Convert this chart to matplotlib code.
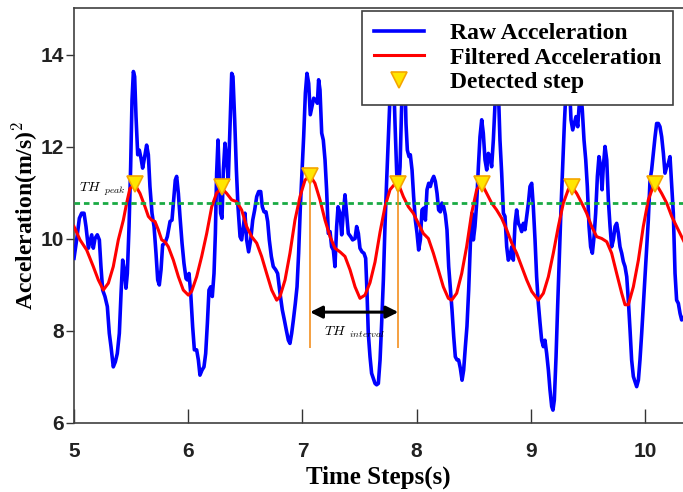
import matplotlib
matplotlib.use("Agg")
import matplotlib.pyplot as plt

# raw accelerometer magnitude
blue_t = [5.000, 5.023, 5.047, 5.067, 5.088, 5.105, 5.126, 5.140, 5.155, 5.169, 5.184, 5.204, 5.222,
          5.236, 5.251, 5.271, 5.292, 5.309, 5.324, 5.344, 5.362, 5.379, 5.397, 5.412, 5.426, 5.441,
          5.455, 5.467, 5.482, 5.496, 5.508, 5.520, 5.531, 5.543, 5.558, 5.572, 5.587, 5.601, 5.619,
          5.636, 5.651, 5.665, 5.683, 5.701, 5.718, 5.733, 5.747, 5.762, 5.776, 5.797, 5.817, 5.841,
          5.858, 5.873, 5.887, 5.899, 5.914, 5.928, 5.946, 5.963, 5.981, 5.992, 6.007, 6.022, 6.039,
          6.054, 6.074, 6.089, 6.103, 6.121, 6.138, 6.153, 6.168, 6.182, 6.197, 6.211, 6.226, 6.238,
          6.249, 6.261, 6.273, 6.284, 6.296, 6.308, 6.322, 6.337, 6.351, 6.366, 6.381, 6.392, 6.407,
          6.422, 6.436, 6.454, 6.468, 6.483, 6.497, 6.512, 6.529, 6.547, 6.565, 6.582, 6.600, 6.617,
          6.635, 6.649, 6.664, 6.681, 6.696, 6.710, 6.728, 6.745, 6.766, 6.783, 6.804, 6.824, 6.842,
          6.859, 6.877, 6.891, 6.906, 6.921, 6.938, 6.953, 6.967, 6.982, 6.996, 7.011, 7.026, 7.040,
          7.055, 7.069, 7.084, 7.099, 7.116, 7.131, 7.142, 7.154, 7.169, 7.183, 7.198, 7.212, 7.227,
          7.242, 7.256, 7.271, 7.285, 7.300, 7.312, 7.329, 7.344, 7.358, 7.373, 7.387, 7.402, 7.423,
          7.440, 7.461, 7.475, 7.490, 7.504, 7.522, 7.539, 7.554, 7.566, 7.577, 7.592, 7.606, 7.621,
          7.636, 7.650, 7.665,
          7.680, 7.694, 7.709, 7.723, 7.738, 7.753, 7.767, 7.782, 7.796, 7.811, 7.826, 7.840, 7.855,
          7.869, 7.884, 7.896, 7.907, 7.919, 7.934, 7.945, 7.960, 7.974, 7.989, 8.004, 8.018, 8.033,
          8.047, 8.062, 8.077, 8.091, 8.106, 8.120, 8.135, 8.150, 8.164, 8.179, 8.193, 8.208, 8.222,
          8.237, 8.252, 8.266, 8.281, 8.295, 8.310, 8.325, 8.339, 8.354, 8.368, 8.383, 8.398, 8.412,
          8.427, 8.441, 8.456, 8.471, 8.485, 8.497, 8.511, 8.526, 8.541, 8.555, 8.570, 8.584, 8.599,
          8.614, 8.628, 8.643, 8.657, 8.672, 8.687, 8.701, 8.716, 8.730, 8.745, 8.760, 8.774, 8.789,
          8.803, 8.818, 8.833, 8.847, 8.862, 8.876, 8.891, 8.906, 8.920, 8.935, 8.949, 8.964, 8.979,
          8.993, 9.008, 9.022, 9.037, 9.051, 9.066, 9.081, 9.095, 9.110, 9.124, 9.139, 9.154, 9.168,
          9.183, 9.194, 9.206, 9.221, 9.235, 9.250, 9.265, 9.279, 9.294, 9.308, 9.323, 9.337, 9.352,
          9.367, 9.381, 9.396, 9.411, 9.425, 9.437, 9.451, 9.466, 9.481, 9.495, 9.510, 9.524, 9.539,
          9.554, 9.568, 9.583, 9.597, 9.612, 9.624, 9.635, 9.650, 9.665, 9.679, 9.694, 9.708, 9.723,
          9.738, 9.752, 9.767, 9.781, 9.796, 9.810, 9.825, 9.840, 9.854, 9.869, 9.883, 9.898, 9.913,
          9.927, 9.942, 9.956, 9.971, 9.985, 10.000, 10.015, 10.029, 10.044, 10.058, 10.073, 10.088,
          10.102, 10.117, 10.131, 10.146, 10.161, 10.175, 10.190, 10.204, 10.219, 10.234, 10.248,
          10.263, 10.277, 10.292, 10.307, 10.321, 10.340]
blue_v = [9.58, 9.98, 10.45, 10.56, 10.56, 10.27, 9.80, 9.94, 10.09, 9.80, 10.01, 10.09, 9.98,
          9.40, 8.89, 8.75, 8.53, 7.95, 7.66, 7.22, 7.33, 7.51, 7.95, 8.82, 9.54, 9.33,
          8.93, 9.25, 10.27, 11.57, 13.02, 13.64, 13.53, 12.66, 11.83, 11.93, 11.75, 11.54, 11.79,
          12.04, 11.83, 11.14, 10.56, 10.27, 9.69, 9.11, 9.00, 9.33, 9.87, 9.91, 10.05, 10.38,
          10.41, 10.85, 11.28, 11.36, 10.99, 10.49, 9.91, 9.47, 9.14, 9.11, 9.25, 8.82, 8.09,
          7.59, 7.59, 7.37, 7.04, 7.15, 7.22, 7.51, 8.17, 8.89, 8.96, 8.75, 9.25, 10.12,
          11.43, 12.15, 11.28, 10.56, 10.45, 11.50, 12.08, 11.72, 11.28, 12.44, 13.60, 13.53, 12.59,
          11.50, 10.70, 10.05, 9.98, 10.27, 10.56, 9.98, 9.72, 9.98, 10.41, 10.63, 10.92, 11.03,
          11.03, 10.70, 10.59, 10.59, 10.38, 9.98, 9.62, 9.40, 9.33, 9.25, 8.82, 8.46, 8.24,
          8.02, 7.80, 7.73, 7.95, 8.24, 8.60, 8.96, 9.69, 10.70, 11.43, 12.22, 13.17, 13.60,
          13.38, 12.70, 12.88, 13.06, 13.02, 12.95, 13.46, 13.24, 12.30, 12.15, 11.72, 11.07, 10.12,
          10.16, 9.83, 9.76, 9.40, 10.27, 10.70, 10.56, 10.09, 10.56, 10.96, 10.56, 10.12, 10.05,
          9.98, 10.01, 10.27, 10.12, 9.80, 9.72, 9.69, 9.58, 8.82, 7.95, 7.44, 7.08, 6.97,
          6.86, 6.83, 6.86,
          7.37, 8.17, 9.11, 10.27, 11.28, 12.22, 13.09, 13.90, 13.75, 12.51, 11.43, 11.07, 11.57,
          12.88, 13.90, 13.67, 12.51, 11.93, 11.79, 11.83, 11.50, 10.92, 10.41, 10.12, 9.76, 9.98,
          10.63, 10.67, 10.41, 11.07, 11.21, 11.14, 11.28, 11.36, 11.25, 10.99, 10.63, 10.59, 10.78,
          10.70, 10.52, 10.20, 9.40, 8.96, 8.46, 7.88, 7.44, 7.37, 7.37, 7.19, 6.93, 7.15,
          7.66, 8.10, 8.89, 9.91, 10.56, 9.98, 10.27, 10.78, 11.57, 12.22, 12.59, 12.30, 11.72,
          11.50, 11.86, 11.79, 11.57, 12.15, 12.95, 13.60, 13.24, 12.15, 11.43, 10.56, 10.49, 9.83,
          9.54, 9.62, 9.83, 9.54, 10.34, 10.63, 10.34, 10.27, 10.16, 10.34, 10.20, 10.49, 10.78,
          11.14, 11.21, 10.70, 9.98, 9.18, 8.60, 8.17, 7.80, 7.66, 7.80, 7.51, 7.15, 6.72,
          6.36, 6.28, 6.50, 7.44, 8.53, 9.62, 10.70, 11.57, 12.51, 13.24, 13.89, 13.46, 12.59,
          12.37, 12.51, 12.66, 12.44, 12.95, 13.24, 12.80, 12.15, 11.72, 11.14, 10.27, 9.83, 9.69,
          10.05, 10.56, 11.36, 11.79, 11.57, 11.07, 11.57, 12.01, 11.72, 10.85, 10.27, 9.83, 9.98,
          10.27, 10.34, 10.12, 9.83, 9.69, 9.51, 9.40, 9.18, 8.67, 8.02, 7.37, 7.01, 6.90,
          6.79, 6.93, 7.37, 7.95, 8.53, 9.18, 9.83, 10.41, 11.28, 11.50, 11.86, 12.22,
          12.51, 12.51, 12.44, 12.22, 11.86, 11.43, 11.57, 11.64, 11.79, 11.14, 10.56,
          9.25, 8.67, 8.60, 8.38, 8.24, 8.30]

# low-pass filtered signal
red_t = [5.000, 5.053, 5.111, 5.169, 5.213, 5.257, 5.301, 5.344, 5.388, 5.432, 5.461, 5.490, 5.534,
         5.578, 5.622, 5.651, 5.680, 5.709, 5.738, 5.768, 5.797, 5.826, 5.870, 5.914, 5.957, 6.001,
         6.030, 6.074, 6.118, 6.162, 6.206, 6.249, 6.294, 6.337, 6.381, 6.425, 6.468, 6.512, 6.556,
         6.600, 6.643, 6.687, 6.731, 6.775, 6.804, 6.848, 6.891, 6.935, 6.979, 7.023, 7.067, 7.110,
         7.154, 7.198, 7.242, 7.285, 7.329, 7.373, 7.417, 7.461, 7.504, 7.548, 7.592, 7.636, 7.680,
         7.723, 7.767, 7.811, 7.840, 7.884, 7.928, 7.971, 8.015, 8.059, 8.103, 8.147, 8.190, 8.234,
         8.278, 8.307, 8.351, 8.395, 8.438, 8.482, 8.526, 8.570, 8.614, 8.657, 8.701, 8.745, 8.789,
         8.833, 8.876, 8.920, 8.964, 9.008, 9.066, 9.110, 9.154, 9.197, 9.241, 9.285, 9.329, 9.358,
         9.402, 9.446, 9.489, 9.533, 9.577, 9.621, 9.665, 9.708, 9.752, 9.796, 9.825, 9.854, 9.898,
         9.942, 9.985, 10.029, 10.073, 10.096, 10.146, 10.190, 10.234, 10.277, 10.340]
red_v = [10.27, 9.98, 9.76, 9.40, 9.11, 8.89, 9.04, 9.40, 9.98, 10.41, 10.78, 11.10, 11.18,
         10.99, 10.70, 10.49, 10.41, 10.38, 10.20, 9.98, 9.94, 9.83, 9.54, 9.18, 8.89, 8.78,
         8.86, 9.18, 9.62, 10.12, 10.70, 11.00, 11.10, 10.99, 10.85, 10.81, 10.63, 10.27, 10.05,
         9.91, 9.62, 9.25, 8.89, 8.67, 8.75, 9.11, 9.69, 10.41, 10.92, 11.28, 11.38, 11.21,
         10.85, 10.41, 10.05, 9.80, 9.72, 9.62, 9.33, 8.96, 8.71, 8.78, 9.05, 9.50, 10.15,
         10.70, 11.07, 11.20, 11.20, 10.92, 10.70, 10.56, 10.34, 10.12, 10.01, 9.69, 9.33, 8.96,
         8.71, 8.67, 8.82, 9.25, 9.83, 10.56, 11.07, 11.20, 10.99, 10.78, 10.63, 10.45, 10.20,
         9.91, 9.69, 9.40, 9.11, 8.86, 8.67, 8.82, 9.18, 9.69, 10.27, 10.78, 11.08, 11.14,
         10.99, 10.78, 10.56, 10.27, 10.05, 10.01, 9.94, 9.69, 9.25, 8.82, 8.57, 8.57, 8.96,
         9.54, 10.27, 10.85, 11.15, 11.20, 10.99, 10.78, 10.49, 10.27, 9.95]

# detected steps (peaks of filtered signal)
step_t = [5.534, 6.300, 7.067, 7.840, 8.570, 9.358, 10.090]
step_v = [11.20, 11.12, 11.37, 11.20, 11.20, 11.14, 11.20]

th_peak = 10.78
interval_bottom = 7.63
arrow_y = 8.41

plt.rcParams["mathtext.fontset"] = "cm"

fig = plt.figure(figsize=(6.83, 4.92), dpi=100)
ax = fig.add_axes([74 / 683, 69 / 492, 609 / 683, 415 / 492])

ax.plot(blue_t, blue_v, color="#0000ff", lw=2.6, label="Raw Acceleration", zorder=3)
ax.plot(red_t, red_v, color="#ff0000", lw=2.2, label="Filtered Acceleration", zorder=4)
ax.axhline(th_peak, color="#1aaa44", lw=2, dashes=(2, 1.4), zorder=5)

# step interval annotation between the 3rd and 4th detected steps
t0, t1 = step_t[2], step_t[3]
ax.vlines([t0, t1], interval_bottom, [step_v[2], step_v[3]], color="#f39020", lw=1.2, zorder=5)
ax.annotate("", xy=(t0, arrow_y), xytext=(t1, arrow_y), zorder=6,
            arrowprops=dict(arrowstyle="<|-|>", color="black", lw=2.2,
                            mutation_scale=18, shrinkA=0, shrinkB=0))
ax.text((t0 + t1) / 2, 7.98, r"$TH_{\ \ interval}$", fontsize=10, ha="center", va="center")
ax.text(5.04, 11.08, r"$TH_{\ \ peak}$", fontsize=10, ha="left", va="center")

ax.plot(step_t, step_v, linestyle="none", marker="v", ms=11, mfc="#ffe600",
        mec="#f5a500", mew=1.2, label="Detected step", zorder=7)

ax.set_xlim(5, 5 + 609 / 114.2)
ax.set_ylim(6, 15.02)
ax.set_xticks([5, 6, 7, 8, 9, 10])
ax.set_yticks([6, 8, 10, 12, 14])
ax.tick_params(axis="x", direction="in", length=10, width=1, pad=14, colors="#333333")
ax.tick_params(axis="y", direction="out", length=6, width=1, pad=1, colors="#333333")
for lab in ax.get_xticklabels() + ax.get_yticklabels():
    lab.set_fontfamily("Liberation Sans")
    lab.set_fontweight("bold")
    lab.set_fontsize(15)
    lab.set_color("#222222")
for side in ["left", "bottom", "top"]:
    ax.spines[side].set_color("#404040")
    ax.spines[side].set_linewidth(1.2)
ax.spines["right"].set_visible(False)

ax.set_xlabel("Time Steps(s)", fontfamily="Liberation Serif", fontweight="bold", fontsize=18,
              labelpad=3)
ax.set_ylabel(r"Acceleration(m/s)$^{\mathbf{2}}$", fontfamily="Liberation Serif",
              fontweight="bold", fontsize=17, labelpad=1)

leg = ax.legend(loc="upper right", bbox_to_anchor=(673 / 683, 1 - 11 / 492),
                bbox_transform=fig.transFigure, borderaxespad=0,
                prop={"family": "Liberation Serif", "weight": "bold", "size": 17},
                frameon=True, fancybox=False, edgecolor="#404040", framealpha=1,
                handlelength=2.1, handletextpad=1.1, borderpad=0.5, labelspacing=0.12)
leg.get_frame().set_linewidth(1.2)
leg.set_zorder(10)

fig.savefig("out.png", dpi=100)
